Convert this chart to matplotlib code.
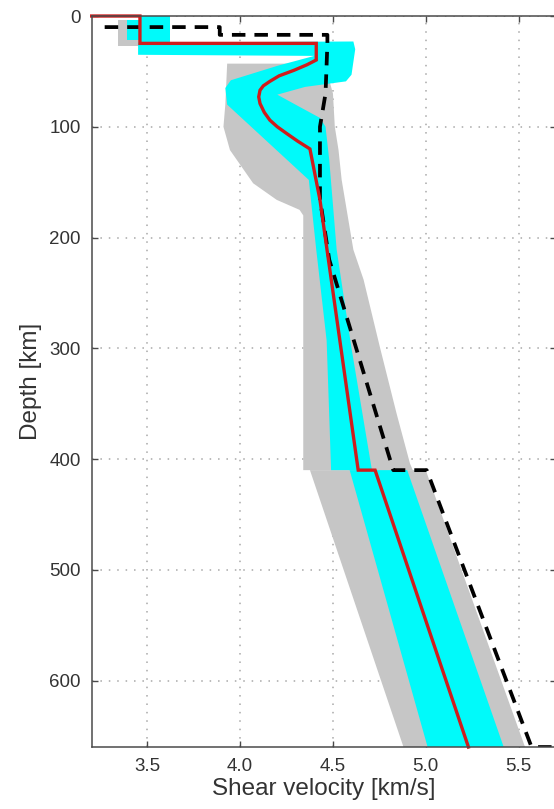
import matplotlib
matplotlib.use("Agg")
import matplotlib.pyplot as plt

# ---------------- data (velocity km/s, depth km) ----------------
# gray envelope (upper part, above 410 km)
gray_up_v = [3.93, 4.40, 4.48, 4.50, 4.51, 4.53, 4.547, 4.61, 4.665, 4.753, 4.843, 4.915, 4.93,
             4.34, 4.34, 4.32, 4.197, 4.07, 3.945, 3.91, 3.92]
gray_up_d = [43, 43, 58, 70, 100, 121, 148, 211, 238, 299, 359, 404, 410,
             410, 180, 175, 166, 151, 121, 100, 80]
# gray envelope, crust
gray_cr_v = [3.34, 3.47, 3.47, 3.34]
gray_cr_d = [4, 4, 27, 27]
# gray envelope, below 410 km
gray_lo_v = [4.376, 5.00, 5.535, 4.88]
gray_lo_d = [410, 410, 660, 660]

# cyan envelope (upper part)
cyan_up_v = [3.45, 4.61, 4.62, 4.60, 4.57, 4.35, 4.20, 4.32, 4.43, 4.46, 4.48, 4.52, 4.60, 4.71,
             4.49, 4.466, 4.41, 4.37, 3.93, 3.92, 3.95, 4.20, 4.40, 3.45]
cyan_up_d = [24, 23, 30, 53, 59, 64, 71, 82, 92, 100, 130, 211, 300, 410,
             410, 293, 211, 148, 80, 65, 58, 45, 36, 35]
# cyan envelope, crust
cyan_cr1_v = [3.39, 3.47, 3.47, 3.39]
cyan_cr1_d = [4, 4, 22, 22]
cyan_cr2_v = [3.46, 3.62, 3.62, 3.46]
cyan_cr2_d = [0, 0, 24, 24]
# cyan envelope, below 410 km
cyan_lo_v = [4.59, 4.90, 5.42, 5.01]
cyan_lo_d = [410, 410, 660, 660]

# best model (red)
red_v = [3.20, 3.46, 3.46, 4.41, 4.41, 4.36, 4.29, 4.21, 4.16, 4.125, 4.107, 4.10, 4.107,
         4.13, 4.16, 4.20, 4.25, 4.31, 4.376, 4.43, 4.636, 4.727, 5.23]
red_d = [0, 0, 24.7, 24.7, 39.7, 44, 49, 54, 59, 63, 67, 73, 79,
         87, 94, 100, 106, 113, 120, 166, 410, 410, 660]

# reference model (black dashed)
ref_v = [3.27, 3.89, 3.89, 4.47, 4.47, 4.46, 4.43, 4.43, 4.48, 4.825, 5.005, 5.57, 5.9]
ref_d = [10, 10, 17, 17, 25, 70, 100, 165, 220, 410, 410, 660, 660]

xticks = [3.5, 4.0, 4.5, 5.0, 5.5]
xticklabels = ["3.5", "4.0", "4.5", "5.0", "5.5"]
yticks = [0, 100, 200, 300, 400, 500, 600]
yticklabels = ["0", "100", "200", "300", "400", "500", "600"]

# ---------------- figure ----------------
plt.rcParams['font.family'] = ['Liberation Sans', 'DejaVu Sans']
fig = plt.figure(figsize=(5.54, 8.09), dpi=100)
ax = fig.add_axes([0.1655, 0.0766, 0.8375, 0.9036])

GRAY = '#c6c6c6'
CYAN = '#00fafa'

for v, d in [(gray_up_v, gray_up_d), (gray_cr_v, gray_cr_d), (gray_lo_v, gray_lo_d)]:
    ax.fill(v, d, color=GRAY, lw=0, zorder=2)
for v, d in [(cyan_up_v, cyan_up_d), (cyan_cr1_v, cyan_cr1_d), (cyan_cr2_v, cyan_cr2_d),
             (cyan_lo_v, cyan_lo_d)]:
    ax.fill(v, d, color=CYAN, lw=0, zorder=3)

ax.plot(ref_v, ref_d, color='black', lw=2.7, dashes=(3.6, 2.4), zorder=4)
ax.plot(red_v, red_d, color='#d01c1c', lw=2.4, zorder=5, solid_joinstyle='miter',
        clip_on=False)

ax.set_xlim(3.2, 5.7)
ax.set_ylim(660, 0)
ax.set_xticks(xticks)
ax.set_xticklabels(xticklabels)
ax.set_yticks(yticks)
ax.set_yticklabels(yticklabels)

ax.grid(True, color='#a8a8a8', lw=1.1, linestyle=(0, (1, 4.5)), zorder=1)
ax.set_axisbelow(True)

for s in ax.spines.values():
    s.set_color('#4a4a4a')
    s.set_linewidth(1.1)
    s.set_zorder(6)

ax.tick_params(direction='in', length=4, width=1.0, color='#4a4a4a',
               top=True, right=True, labelsize=13.5, labelcolor='#333333', pad=8)

ax.set_xlabel('Shear velocity [km/s]', fontsize=17.5, color='#333333', labelpad=2)
ax.set_ylabel('Depth [km]', fontsize=17.5, color='#333333', labelpad=5)

fig.savefig('out.png', dpi=100)
